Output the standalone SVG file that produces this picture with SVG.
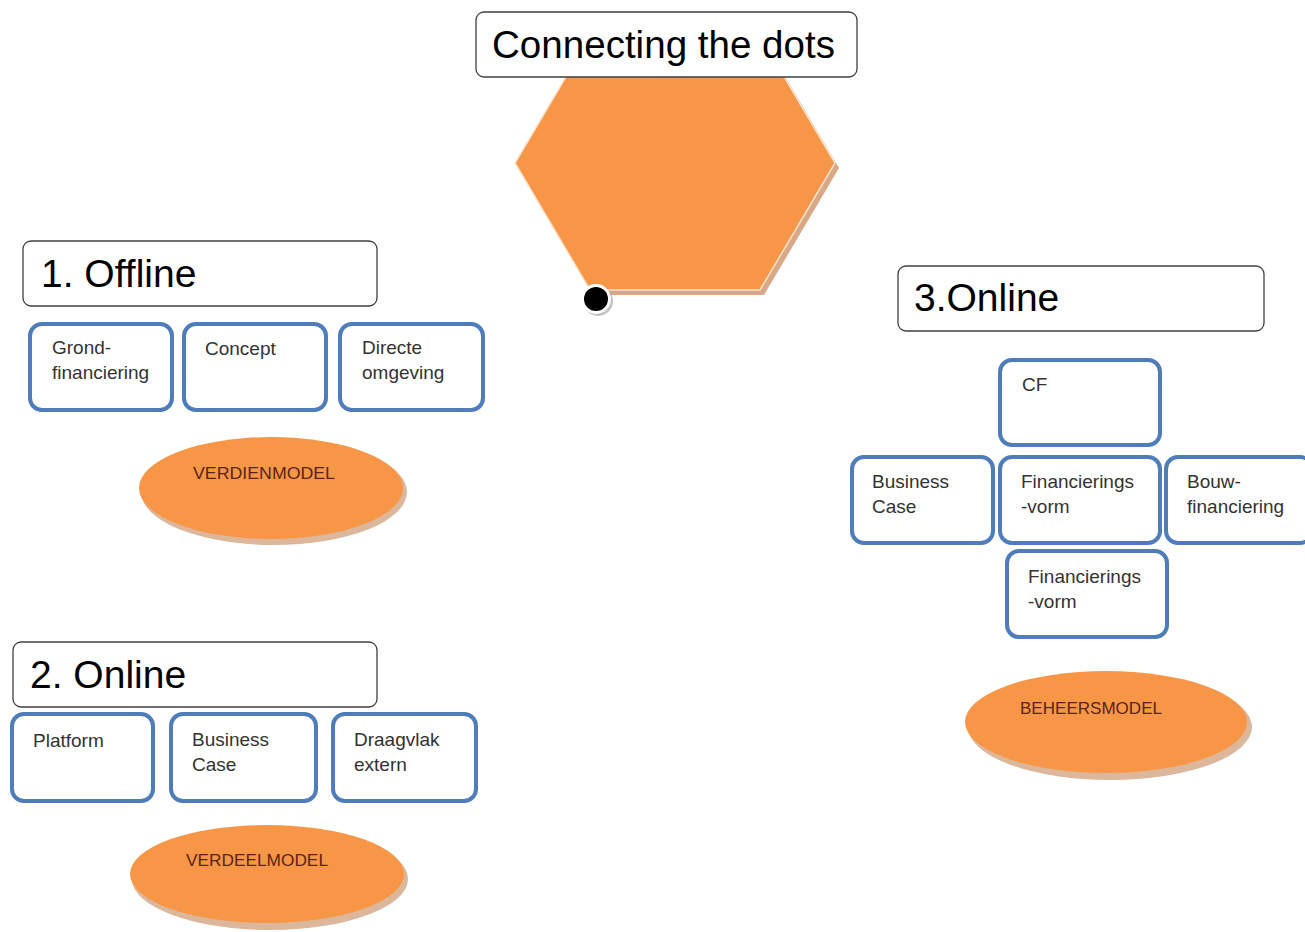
<svg xmlns="http://www.w3.org/2000/svg" width="1305" height="932" viewBox="0 0 1305 932">
<style>
.title{fill:#fff;stroke:#404040;stroke-width:1.3}
.tt{font-family:"Liberation Sans",Arial,sans-serif;font-size:39px;fill:#000}
.box{fill:#fff;stroke:#4f7cba;stroke-width:4}
.bt{font-family:"Liberation Sans",Arial,sans-serif;font-size:19px;fill:#333}
.ell{fill:#f79646}
.esh{fill:#dcb79b}
.et{font-family:"Liberation Sans",Arial,sans-serif;font-size:17px;fill:#5b2416}
</style>
<rect width="1305" height="932" fill="#fff"/>
<g id="hexagon">
<polygon points="519,168 594,41 764,41 839,168 764,295 594,295" fill="#d9a886"/>
<polygon points="515,163 590,36 760,36 835,163 760,290 590,290" fill="#f79646" stroke="#fbe3cf" stroke-width="1.5"/>
</g>
<g id="title">
<rect class="title" x="476" y="12" width="381" height="65" rx="8"/>
<text class="tt" x="492" y="58" textLength="343" lengthAdjust="spacingAndGlyphs">Connecting the dots</text>
</g>
<g id="dot">
<circle cx="598" cy="301" r="15" fill="#9a9a9a" opacity="0.6"/>
<circle cx="596" cy="299" r="15" fill="#fff"/>
<circle cx="596" cy="299" r="12" fill="#000"/>
</g>
<g id="offline">
<rect class="title" x="23" y="241" width="354" height="65" rx="8"/>
<text class="tt" x="41" y="287">1. Offline</text>
</g>
<g id="grondfinanciering">
<rect class="box" x="30" y="324" width="142" height="86" rx="12"/>
<text class="bt" x="52" y="354">Grond-</text><text class="bt" x="52" y="379">financiering</text>
</g>
<g id="concept">
<rect class="box" x="184" y="324" width="142" height="86" rx="12"/>
<text class="bt" x="205" y="355">Concept</text>
</g>
<g id="directe-omgeving">
<rect class="box" x="340" y="324" width="143" height="86" rx="12"/>
<text class="bt" x="362" y="354">Directe</text><text class="bt" x="362" y="379">omgeving</text>
</g>
<g id="verdienmodel">
<ellipse class="esh" cx="274" cy="492" rx="133" ry="53"/>
<ellipse class="ell" cx="271" cy="488" rx="132" ry="51"/>
<text class="et" x="193" y="479" textLength="142" lengthAdjust="spacingAndGlyphs">VERDIENMODEL</text>
</g>
<g id="online2">
<rect class="title" x="13" y="642" width="364" height="65" rx="8"/>
<text class="tt" x="30" y="688">2. Online</text>
</g>
<g id="platform">
<rect class="box" x="12" y="714" width="141" height="87" rx="12"/>
<text class="bt" x="33" y="747">Platform</text>
</g>
<g id="business-case-2">
<rect class="box" x="171" y="714" width="145" height="87" rx="12"/>
<text class="bt" x="192" y="746">Business</text><text class="bt" x="192" y="771">Case</text>
</g>
<g id="draagvlak">
<rect class="box" x="333" y="714" width="143" height="87" rx="12"/>
<text class="bt" x="354" y="746">Draagvlak</text><text class="bt" x="354" y="771">extern</text>
</g>
<g id="verdeelmodel">
<ellipse class="esh" cx="270" cy="879" rx="138" ry="51"/>
<ellipse class="ell" cx="267" cy="874" rx="137" ry="49"/>
<text class="et" x="186" y="866" textLength="142" lengthAdjust="spacingAndGlyphs">VERDEELMODEL</text>
</g>
<g id="online3">
<rect class="title" x="898" y="266" width="366" height="65" rx="8"/>
<text class="tt" x="914" y="311">3.Online</text>
</g>
<g id="cf">
<rect class="box" x="1000" y="360" width="160" height="85" rx="12"/>
<text class="bt" x="1022" y="391">CF</text>
</g>
<g id="business-case-3">
<rect class="box" x="852" y="457" width="141" height="86" rx="12"/>
<text class="bt" x="872" y="488">Business</text><text class="bt" x="872" y="513">Case</text>
</g>
<g id="financieringsvorm-1">
<rect class="box" x="1000" y="457" width="160" height="86" rx="12"/>
<text class="bt" x="1021" y="488">Financierings</text><text class="bt" x="1021" y="513">-vorm</text>
</g>
<g id="bouwfinanciering">
<rect class="box" x="1166" y="457" width="146" height="86" rx="12"/>
<text class="bt" x="1187" y="488">Bouw-</text><text class="bt" x="1187" y="513">financiering</text>
</g>
<g id="financieringsvorm-2">
<rect class="box" x="1007" y="551" width="160" height="86" rx="12"/>
<text class="bt" x="1028" y="583">Financierings</text><text class="bt" x="1028" y="608">-vorm</text>
</g>
<g id="beheersmodel">
<ellipse class="esh" cx="1110" cy="727" rx="142" ry="53"/>
<ellipse class="ell" cx="1106" cy="722" rx="141" ry="51"/>
<text class="et" x="1020" y="714" textLength="142" lengthAdjust="spacingAndGlyphs">BEHEERSMODEL</text>
</g>
<g id="connectors"></g>
</svg>
